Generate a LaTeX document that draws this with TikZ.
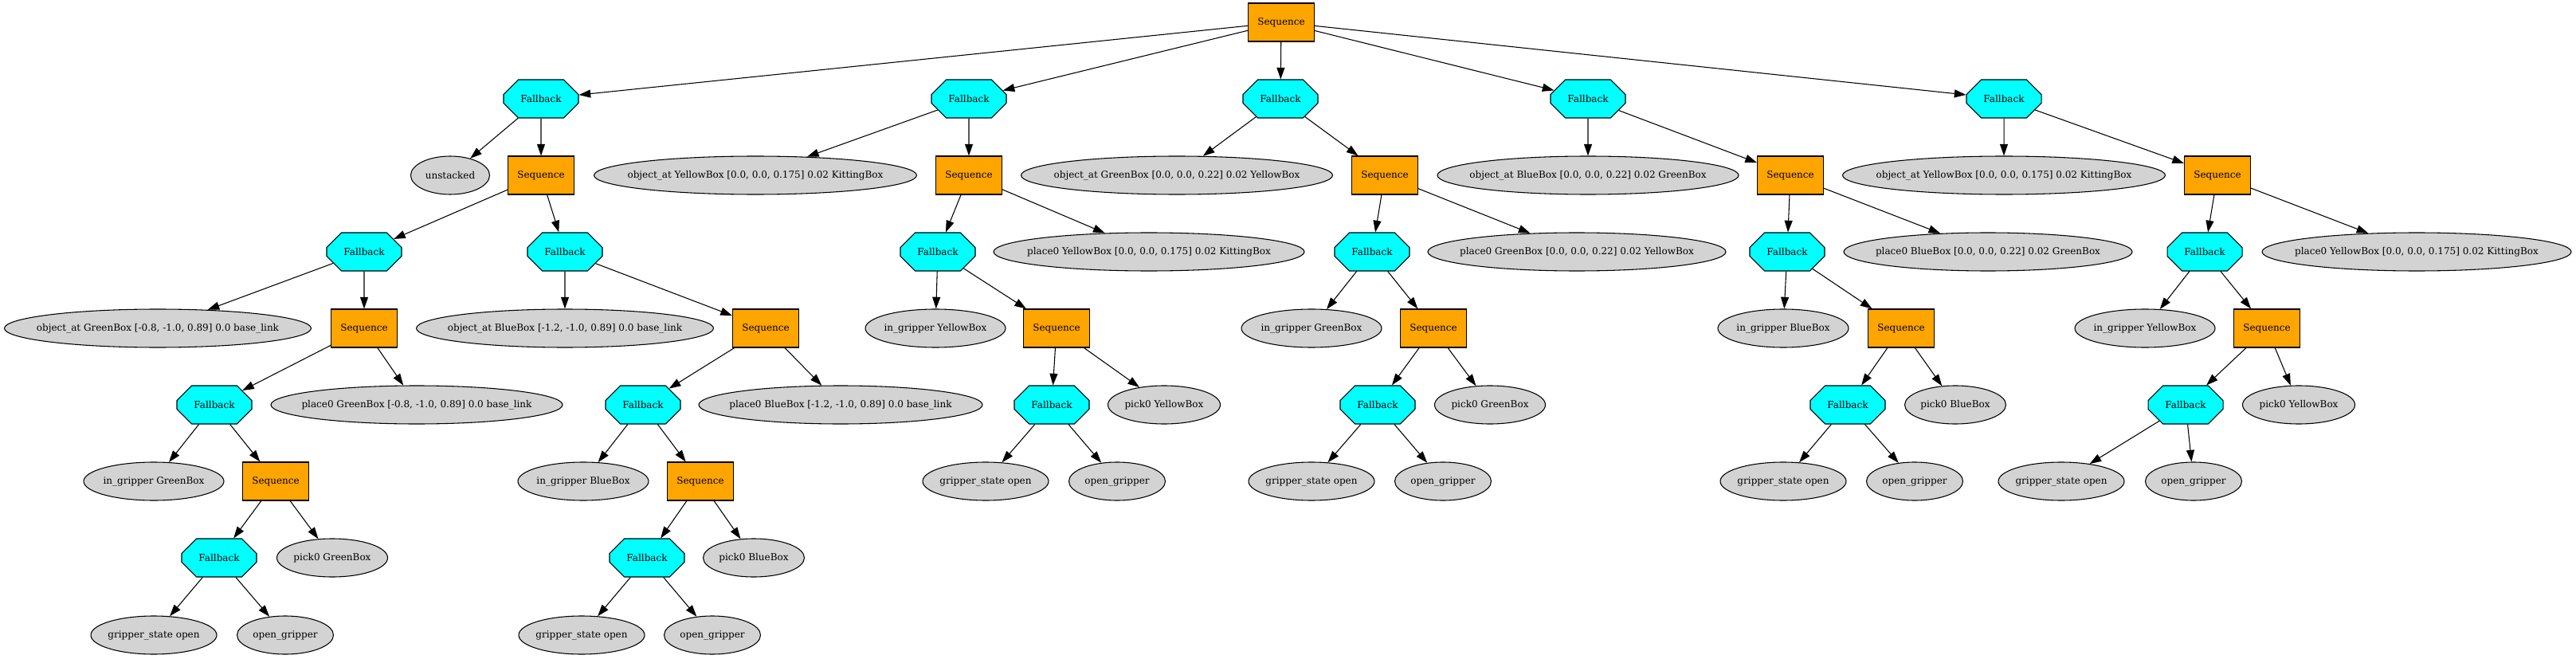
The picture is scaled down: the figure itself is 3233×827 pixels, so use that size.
\documentclass[tikz,border=0pt]{standalone}
\usepackage{fontspec}
\setmainfont{DejaVu Serif}
\usetikzlibrary{arrows.meta,shapes.geometric,shapes.misc}

\definecolor{seqorange}{HTML}{FFA500}
\definecolor{fbcyan}{HTML}{00FFFF}
\definecolor{leafgray}{HTML}{D3D3D3}

\tikzset{
  every node/.style={draw=black, line width=0.8pt, font=\fontsize{9}{11}\selectfont, inner sep=0pt},
  sequence/.style={rectangle, fill=seqorange, minimum width=62.25pt, minimum height=36pt},
  fallback/.style={chamfered rectangle, fill=fbcyan, chamfered rectangle xsep=11.6pt,
    chamfered rectangle ysep=10.5pt, minimum width=70.5pt, minimum height=36pt},
  leaf/.style={ellipse, fill=leafgray, minimum height=36pt, minimum width=#1*0.75pt, inner xsep=-60pt},
  edge/.style={-{Triangle[length=11pt,width=7.5pt]}, line width=0.8pt}
}

\begin{document}
\begin{tikzpicture}[x=0.75pt,y=-0.75pt]
\useasboundingbox (0,0) rectangle (3233,827);
% root
\node[sequence] (root) at (1608,28) {Sequence};
% first branch: unstacked
\node[fallback] (f1) at (679,124) {Fallback};
\node[leaf=99] (u1) at (565,220) {unstacked};
\node[sequence] (s1) at (679,220) {Sequence};
\node[fallback] (f1g) at (457,316) {Fallback};
\node[fallback] (f1b) at (709,316) {Fallback};
\node[leaf=385] (c1g) at (198,412) {object\_at GreenBox [-0.8, -1.0, 0.89] 0.0 base\_link};
\node[sequence] (s1g) at (457,412) {Sequence};
\node[leaf=373] (c1b) at (709,412) {object\_at BlueBox [-1.2, -1.0, 0.89] 0.0 base\_link};
\node[sequence] (s1b) at (961,412) {Sequence};
\node[fallback] (f1gx) at (269,508) {Fallback};
\node[leaf=366] (p1g) at (523,508) {place0 GreenBox [-0.8, -1.0, 0.89] 0.0 base\_link};
\node[fallback] (f1bx) at (807,508) {Fallback};
\node[leaf=356] (p1b) at (1055,508) {place0 BlueBox [-1.2, -1.0, 0.89] 0.0 base\_link};
\node[leaf=176] (g1g) at (193,604) {in\_gripper GreenBox};
\node[sequence] (s1gx) at (346,604) {Sequence};
\node[leaf=164] (g1b) at (732,604) {in\_gripper BlueBox};
\node[sequence] (s1bx) at (879,604) {Sequence};
\node[fallback] (f1gy) at (275,700) {Fallback};
\node[leaf=139] (k1g) at (417,700) {pick0 GreenBox};
\node[fallback] (f1by) at (812,700) {Fallback};
\node[leaf=127] (k1b) at (946,700) {pick0 BlueBox};
\node[leaf=158] (o1g) at (193,797) {gripper\_state open};
\node[leaf=121] (e1g) at (358,797) {open\_gripper};
\node[leaf=158] (o1b) at (730,797) {gripper\_state open};
\node[leaf=121] (e1b) at (894,797) {open\_gripper};
% second branch: YellowBox on KittingBox
\node[fallback] (f2) at (1216,124) {Fallback};
\node[leaf=405] (c2) at (948,220) {object\_at YellowBox [0.0, 0.0, 0.175] 0.02 KittingBox};
\node[sequence] (s2) at (1216,220) {Sequence};
\node[fallback] (f2a) at (1177,316) {Fallback};
\node[leaf=390] (p2) at (1442,316) {place0 YellowBox [0.0, 0.0, 0.175] 0.02 KittingBox};
\node[leaf=176] (g2) at (1174,412) {in\_gripper YellowBox};
\node[sequence] (s2a) at (1326,412) {Sequence};
\node[fallback] (f2b) at (1320,508) {Fallback};
\node[leaf=141] (k2) at (1461,508) {pick0 YellowBox};
\node[leaf=158] (o2) at (1237,604) {gripper\_state open};
\node[leaf=121] (e2) at (1402,604) {open\_gripper};
% third branch: GreenBox on YellowBox
\node[fallback] (f3) at (1607,124) {Fallback};
\node[leaf=391] (c3) at (1477,220) {object\_at GreenBox [0.0, 0.0, 0.22] 0.02 YellowBox};
\node[sequence] (s3) at (1738,220) {Sequence};
\node[fallback] (f3a) at (1722,316) {Fallback};
\node[leaf=374] (p3) at (1979,316) {place0 GreenBox [0.0, 0.0, 0.22] 0.02 YellowBox};
\node[leaf=176] (g3) at (1646,412) {in\_gripper GreenBox};
\node[sequence] (s3a) at (1799,412) {Sequence};
\node[fallback] (f3b) at (1729,508) {Fallback};
\node[leaf=139] (k3) at (1870,508) {pick0 GreenBox};
\node[leaf=158] (o3) at (1646,604) {gripper\_state open};
\node[leaf=121] (e3) at (1811,604) {open\_gripper};
% fourth branch: BlueBox on GreenBox
\node[fallback] (f4) at (1993,124) {Fallback};
\node[leaf=378] (c4) at (1993,220) {object\_at BlueBox [0.0, 0.0, 0.22] 0.02 GreenBox};
\node[sequence] (s4) at (2247,220) {Sequence};
\node[fallback] (f4a) at (2243,316) {Fallback};
\node[leaf=362] (p4) at (2495,316) {place0 BlueBox [0.0, 0.0, 0.22] 0.02 GreenBox};
\node[leaf=164] (g4) at (2238,412) {in\_gripper BlueBox};
\node[sequence] (s4a) at (2386,412) {Sequence};
\node[fallback] (f4b) at (2319,508) {Fallback};
\node[leaf=127] (k4) at (2454,508) {pick0 BlueBox};
\node[leaf=158] (o4) at (2238,604) {gripper\_state open};
\node[leaf=121] (e4) at (2403,604) {open\_gripper};
% fifth branch: YellowBox on KittingBox again
\node[fallback] (f5) at (2515,124) {Fallback};
\node[leaf=405] (c5) at (2515,220) {object\_at YellowBox [0.0, 0.0, 0.175] 0.02 KittingBox};
\node[sequence] (s5) at (2783,220) {Sequence};
\node[fallback] (f5a) at (2767,316) {Fallback};
\node[leaf=388] (p5) at (3033,316) {place0 YellowBox [0.0, 0.0, 0.175] 0.02 KittingBox};
\node[leaf=176] (g5) at (2692,412) {in\_gripper YellowBox};
\node[sequence] (s5a) at (2845,412) {Sequence};
\node[fallback] (f5b) at (2743,508) {Fallback};
\node[leaf=141] (k5) at (2885,508) {pick0 YellowBox};
\node[leaf=158] (o5) at (2587,604) {gripper\_state open};
\node[leaf=121] (e5) at (2753,604) {open\_gripper};
% edges
\draw[edge] (root) -- (f1);
\draw[edge] (root) -- (f2);
\draw[edge] (root) -- (f3);
\draw[edge] (root) -- (f4);
\draw[edge] (root) -- (f5);
\draw[edge] (f1) -- (u1);
\draw[edge] (f1) -- (s1);
\draw[edge] (s1) -- (f1g);
\draw[edge] (s1) -- (f1b);
\draw[edge] (f1g) -- (c1g);
\draw[edge] (f1g) -- (s1g);
\draw[edge] (s1g) -- (f1gx);
\draw[edge] (s1g) -- (p1g);
\draw[edge] (f1gx) -- (g1g);
\draw[edge] (f1gx) -- (s1gx);
\draw[edge] (s1gx) -- (f1gy);
\draw[edge] (s1gx) -- (k1g);
\draw[edge] (f1gy) -- (o1g);
\draw[edge] (f1gy) -- (e1g);
\draw[edge] (f1b) -- (c1b);
\draw[edge] (f1b) -- (s1b);
\draw[edge] (s1b) -- (f1bx);
\draw[edge] (s1b) -- (p1b);
\draw[edge] (f1bx) -- (g1b);
\draw[edge] (f1bx) -- (s1bx);
\draw[edge] (s1bx) -- (f1by);
\draw[edge] (s1bx) -- (k1b);
\draw[edge] (f1by) -- (o1b);
\draw[edge] (f1by) -- (e1b);
\draw[edge] (f2) -- (c2);
\draw[edge] (f2) -- (s2);
\draw[edge] (s2) -- (f2a);
\draw[edge] (s2) -- (p2);
\draw[edge] (f2a) -- (g2);
\draw[edge] (f2a) -- (s2a);
\draw[edge] (s2a) -- (f2b);
\draw[edge] (s2a) -- (k2);
\draw[edge] (f2b) -- (o2);
\draw[edge] (f2b) -- (e2);
\draw[edge] (f3) -- (c3);
\draw[edge] (f3) -- (s3);
\draw[edge] (s3) -- (f3a);
\draw[edge] (s3) -- (p3);
\draw[edge] (f3a) -- (g3);
\draw[edge] (f3a) -- (s3a);
\draw[edge] (s3a) -- (f3b);
\draw[edge] (s3a) -- (k3);
\draw[edge] (f3b) -- (o3);
\draw[edge] (f3b) -- (e3);
\draw[edge] (f4) -- (c4);
\draw[edge] (f4) -- (s4);
\draw[edge] (s4) -- (f4a);
\draw[edge] (s4) -- (p4);
\draw[edge] (f4a) -- (g4);
\draw[edge] (f4a) -- (s4a);
\draw[edge] (s4a) -- (f4b);
\draw[edge] (s4a) -- (k4);
\draw[edge] (f4b) -- (o4);
\draw[edge] (f4b) -- (e4);
\draw[edge] (f5) -- (c5);
\draw[edge] (f5) -- (s5);
\draw[edge] (s5) -- (f5a);
\draw[edge] (s5) -- (p5);
\draw[edge] (f5a) -- (g5);
\draw[edge] (f5a) -- (s5a);
\draw[edge] (s5a) -- (f5b);
\draw[edge] (s5a) -- (k5);
\draw[edge] (f5b) -- (o5);
\draw[edge] (f5b) -- (e5);
\end{tikzpicture}
\end{document}
